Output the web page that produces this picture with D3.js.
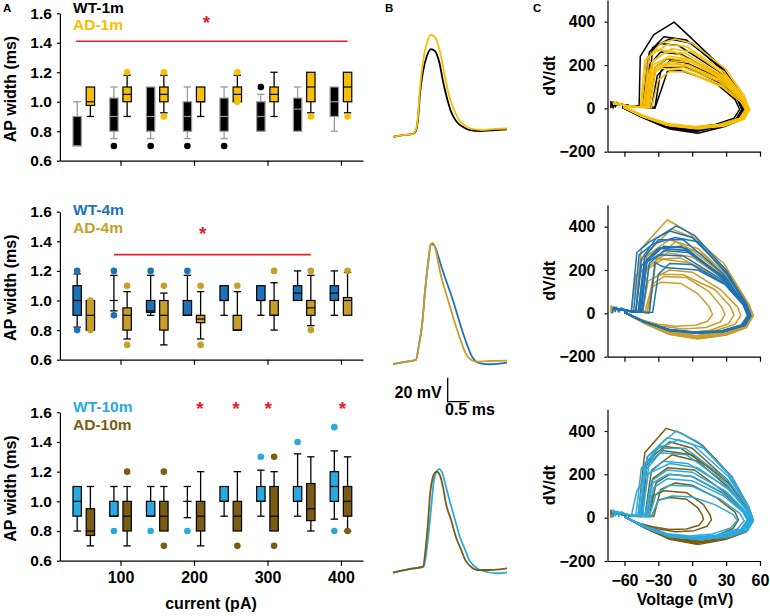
<!DOCTYPE html>
<html><head><meta charset="utf-8">
<script src="https://cdn.jsdelivr.net/npm/d3@7"></script>
<style>
body{margin:0;background:#fff}
svg{display:block;font-family:"Liberation Sans",Arial,sans-serif;font-weight:bold}
</style>
</head><body>
<svg id="chart" width="770" height="616"></svg>
<script>
// ---------------- DATA ----------------
const currents = [50,100,150,200,250,300,350,400];
const xTicksA = [100,200,300,400];
const yTicksA = [0.6,0.8,1.0,1.2,1.4,1.6];
const xTicksC = [-60,-30,0,30,60];
const yTicksC = [-200,0,200,400];
const seriesNames = ["WT-1m","AD-1m","WT-4m","AD-4m","WT-10m","AD-10m"];

// box stats per current: [lowWhisker, q1, median, q3, highWhisker]
const wt1m = [[0.70,0.70,0.70,0.90,1.00],[0.75,0.80,0.90,1.025,1.10],[0.75,0.80,0.90,1.10,1.10],[0.75,0.80,0.90,1.00,1.10],
              [0.75,0.80,0.90,1.025,1.10],[0.80,0.80,0.90,1.00,1.05],[0.80,0.80,0.95,1.025,1.10],[0.80,0.90,1.00,1.10,1.10]];
const ad1m = [[0.90,0.975,1.00,1.10,1.10],[0.90,1.00,1.05,1.10,1.18],[0.925,1.00,1.05,1.10,1.18],[0.90,1.00,1.00,1.10,1.10],
              [1.00,1.00,1.05,1.10,1.18],[0.90,1.00,1.05,1.10,1.20],[0.925,1.00,1.10,1.20,1.20],[0.925,1.00,1.10,1.20,1.20]];
const wt4m = [[0.82,0.90,1.00,1.10,1.18],[0.93,1.00,1.00,1.00,1.17],[0.90,0.92,0.93,1.00,1.17],[0.90,0.90,0.90,1.00,1.17],
              [0.90,1.00,1.00,1.10,1.10],[0.90,1.00,1.00,1.10,1.10],[1.00,1.00,1.05,1.10,1.20],[0.90,1.00,1.05,1.10,1.20]];
const ad4m = [[0.80,0.80,0.90,1.00,1.00],[0.74,0.80,0.90,0.95,1.06],[0.70,0.80,0.90,1.00,1.05],[0.74,0.85,0.875,0.90,1.06],
              [0.80,0.80,0.80,0.90,1.06],[0.80,0.90,0.90,1.00,1.12],[0.83,0.90,0.95,1.00,1.17],[0.90,0.90,1.00,1.02,1.19]];
const wt10m = [[0.80,0.90,1.00,1.10,1.10],[0.90,0.90,0.90,1.00,1.10],[0.90,0.90,0.90,1.00,1.10],[0.89,1.00,1.00,1.00,1.10],
               [0.90,1.00,1.00,1.10,1.10],[0.90,1.00,1.00,1.10,1.21],[0.90,1.00,1.00,1.10,1.32],[0.88,1.00,1.10,1.20,1.34]];
const ad10m = [[0.70,0.77,0.80,0.95,1.10],[0.70,0.80,0.90,1.00,1.10],[0.80,0.80,0.90,1.00,1.10],[0.70,0.80,0.90,1.00,1.20],
               [0.80,0.80,0.90,1.00,1.20],[0.80,0.80,0.90,1.10,1.20],[0.80,0.87,0.95,1.12,1.30],[0.80,0.90,1.00,1.10,1.30]];

// outliers: [current, value]
const wt1mOut = [[100,0.70],[150,0.70],[200,0.70],[250,0.70],[300,1.10]];
const ad1mOut = [[100,1.20],[150,1.20],[150,0.90],[250,1.20],[250,1.00],[350,0.90],[400,0.90]];
const wt4mOut = [[50,1.20],[50,0.80],[100,1.20],[100,0.90],[150,1.20],[200,1.20]];
const ad4mOut = [[50,1.00],[50,0.80],[100,1.10],[100,0.70],[150,1.10],[200,1.10],[200,0.70],[250,1.10],[300,1.20],[350,1.20],[350,0.80],[400,1.20]];
const wt10mOut = [[100,0.80],[150,0.80],[200,0.80],[300,1.30],[350,1.40],[400,1.50],[400,0.80]];
const ad10mOut = [[100,1.20],[150,1.20],[150,0.70],[250,0.70],[300,1.30],[300,0.70],[400,0.80]];

// significance: red bar [fromCurrent, toCurrent, value], stars [current, value]
const sigBar1m = [39.5, 409, 1.41];
const sigBar4m = [91, 359, 1.31];
const stars1m = [[217, 1.56]];
const stars4m = [[212, 1.475]];
const stars10m = [[208, 1.647],[257, 1.647],[301, 1.647],[402, 1.647]];

// Panel B action potentials: [time ms, mV above rest]
const apWT1m = [[0,0],[0.27,1.7],[0.45,2.5],[0.52,5],[0.57,15.8],[0.61,35],[0.68,54.2],[0.77,67.5],[0.86,73.3],[0.95,71.7],[1.05,62.5],[1.14,45.8],[1.25,29.2],[1.34,19.2],[1.45,12.5],[1.59,8.3],[1.75,5.8],[1.98,5],[2.32,5.8],[2.59,6.3]];
const apAD1m = [[0,0],[0.27,1.7],[0.45,2.5],[0.52,5.8],[0.57,18.3],[0.61,39.2],[0.68,62.5],[0.77,78.3],[0.86,85],[0.95,83.3],[1.07,70.8],[1.16,54.2],[1.27,35],[1.39,22.5],[1.5,14.2],[1.64,9.2],[1.8,6.7],[2.02,5.8],[2.32,6.7],[2.59,7.1]];
const apWT4m = [[0,-0.6],[0.27,1.1],[0.52,2.8],[0.59,15.3],[0.66,31.9],[0.73,60.9],[0.80,84.4],[0.86,99.4],[0.93,98.6],[1.02,90.3],[1.11,79.4],[1.36,52.8],[1.59,25.3],[1.80,5.3],[1.98,0],[2.20,-0.8],[2.59,0.5]];
const apAD4m = [[0,-0.6],[0.27,1.1],[0.52,2.8],[0.59,15.3],[0.66,31.9],[0.73,60.9],[0.80,84.4],[0.86,99.4],[0.91,100.3],[0.98,92.8],[1.07,76.1],[1.25,52.8],[1.48,25.3],[1.70,5.3],[1.90,1.3],[2.20,1.9],[2.59,2.2]];
const apWT10m = [[0,-0.8],[0.39,2.3],[0.70,4.2],[0.77,19.8],[0.84,43.1],[0.89,62.2],[0.93,76.4],[1.0,84.1],[1.05,85.5],[1.11,83.1],[1.20,71.4],[1.30,57.3],[1.41,43.1],[1.52,28.9],[1.64,18.1],[1.73,9.8],[1.84,4.8],[1.98,1.4],[2.36,-1.3],[2.59,-0.5]];
const apAD10m = [[0,-0.8],[0.39,2.3],[0.68,4.2],[0.75,22.3],[0.80,43.1],[0.84,63.9],[0.89,76.4],[0.95,82.3],[1.0,83.3],[1.07,79.8],[1.14,69.8],[1.20,57.3],[1.32,43.1],[1.43,28.9],[1.55,18.1],[1.64,9.8],[1.75,4.8],[1.91,1.4],[2.20,1.4],[2.59,2.8]];
const scaleBarMs = 0.5, scaleBarMV = 20;

// Panel C phase plots: loops of [Voltage mV, dV/dt]
const restWT1m = [[-72,0],[-72,32],[-70,2],[-70,30],[-68,6],[-67,28],[-64,18]];
const phaseWT1m = [
 [[-70,25],[-58,12],[-47,5],[-46,240],[-34,340],[-16,398],[-2,330],[28,180],[44,60],[48,-5],[44,-50],[28,-85],[5,-115],[-20,-95],[-42,-45],[-60,5]],
 [[-70,20],[-55,10],[-42,5],[-38,260],[-25,330],[-5,315],[25,190],[43,60],[47,-5],[43,-45],[25,-80],[0,-105],[-25,-80],[-45,-35],[-62,8]],
 [[-70,22],[-55,12],[-40,5],[-35,280],[-20,320],[0,300],[28,170],[45,50],[49,0],[45,-45],[28,-80],[5,-100],[-22,-85],[-45,-38],[-62,5]],
 [[-70,25],[-56,12],[-33,5],[-28,170],[-20,220],[-5,210],[25,130],[42,40],[45,-5],[40,-50],[22,-85],[0,-100],[-25,-80],[-45,-35],[-62,5]],
 [[-70,20],[-55,10],[-33,0],[-26,108],[-22,170],[-10,175],[20,120],[38,40],[42,-5],[37,-45],[20,-75],[0,-90],[-25,-70],[-45,-30],[-60,5]],
 [[-70,25],[-55,12],[-42,5],[-38,200],[-28,260],[-10,250],[22,160],[42,55],[46,0],[42,-45],[25,-80],[2,-100],[-22,-85],[-45,-38],[-62,5]],
 [[-70,25],[-56,12],[-38,5],[-33,190],[-22,230],[-8,215],[20,150],[40,50],[44,-5],[40,-50],[22,-85],[0,-105],[-25,-85],[-45,-40],[-62,5]],
 [[-70,22],[-56,10],[-44,5],[-40,230],[-30,300],[-12,290],[24,170],[43,55],[47,-5],[43,-48],[26,-82],[3,-108],[-22,-88],[-44,-40],[-62,5]],
 [[-70,22],[-56,10],[-36,5],[-31,150],[-24,190],[-6,190],[22,125],[40,40],[44,-5],[39,-48],[22,-80],[0,-98],[-24,-80],[-45,-36],[-62,5]]
];
const restAD1m = [[-70,20],[-69,30],[-66,24],[-62,20]];
const phaseAD1m = [
 [[-70,25],[-58,12],[-45,5],[-40,230],[-28,300],[-15,320],[0,300],[30,180],[46,60],[50,0],[46,-45],[28,-80],[5,-95],[-20,-80],[-42,-40],[-60,5]],
 [[-70,22],[-57,12],[-43,5],[-38,240],[-22,295],[-5,285],[28,170],[45,55],[49,0],[45,-45],[26,-78],[3,-92],[-22,-78],[-44,-38],[-61,5]],
 [[-70,22],[-56,10],[-40,5],[-35,220],[-18,275],[0,260],[30,150],[46,45],[50,-5],[45,-48],[26,-80],[2,-92],[-22,-78],[-44,-38],[-61,5]],
 [[-70,22],[-56,10],[-40,4],[-35,200],[-20,240],[-2,225],[28,140],[46,45],[50,-5],[45,-48],[28,-80],[5,-90],[-20,-75],[-42,-38],[-60,5]],
 [[-70,22],[-56,10],[-38,4],[-32,180],[-18,220],[0,210],[28,130],[45,40],[49,-5],[44,-48],[26,-78],[4,-88],[-20,-75],[-42,-36],[-60,5]],
 [[-70,22],[-56,10],[-40,4],[-34,170],[-20,210],[-3,200],[30,120],[47,35],[51,-5],[46,-50],[28,-82],[6,-90],[-20,-76],[-42,-38],[-60,5]],
 [[-70,22],[-56,10],[-42,4],[-37,160],[-25,195],[-8,190],[26,120],[44,40],[48,-5],[43,-45],[25,-76],[3,-86],[-22,-72],[-43,-35],[-60,5]],
 [[-70,22],[-56,10],[-44,4],[-39,150],[-28,185],[-10,180],[25,110],[44,35],[48,-5],[44,-45],[26,-78],[4,-88],[-22,-74],[-43,-36],[-60,5]],
 [[-70,22],[-56,10],[-36,4],[-30,130],[-20,170],[-5,168],[26,100],[43,30],[47,-5],[42,-45],[24,-74],[2,-84],[-22,-70],[-43,-34],[-60,5]],
 [[-70,22],[-56,10],[-46,4],[-42,220],[-32,270],[-18,265],[28,150],[46,45],[50,-5],[45,-48],[27,-80],[4,-92],[-22,-78],[-44,-38],[-61,5]],
 [[-70,22],[-56,10],[-41,4],[-36,210],[-24,260],[-6,255],[27,150],[45,45],[49,-5],[44,-47],[26,-79],[3,-90],[-21,-76],[-43,-37],[-60,5]],
 [[-70,22],[-56,10],[-39,4],[-33,190],[-22,232],[-4,220],[29,135],[46,42],[50,-5],[45,-48],[27,-80],[4,-89],[-21,-75],[-42,-37],[-60,5]],
 [[-70,22],[-56,10],[-43,4],[-38,175],[-26,205],[-8,200],[27,125],[45,38],[49,-5],[44,-47],[26,-79],[3,-88],[-21,-74],[-43,-36],[-60,5]]
];
const restAD4m = [[-72,0],[-72,35],[-70,5],[-69,30],[-65,20]];
const phaseAD4m = [
 [[-70,22],[-56,10],[-50,5],[-45,300],[-22,432],[-5,380],[28,230],[48,60],[53,-10],[48,-60],[30,-95],[5,-115],[-20,-95],[-42,-45],[-60,5]],
 [[-70,22],[-56,10],[-46,5],[-40,280],[-18,390],[0,350],[30,200],[48,55],[52,-10],[47,-60],[28,-95],[5,-112],[-20,-92],[-42,-45],[-60,5]],
 [[-70,22],[-56,10],[-48,5],[-42,260],[-20,340],[5,300],[32,170],[48,50],[52,-10],[46,-60],[28,-95],[4,-110],[-22,-90],[-43,-44],[-60,5]],
 [[-70,22],[-56,10],[-44,5],[-38,220],[-22,280],[0,260],[30,150],[46,45],[50,-10],[44,-55],[26,-90],[2,-105],[-22,-85],[-43,-42],[-60,5]],
 [[-70,22],[-56,10],[-54,5],[-50,174],[-30,250],[-10,255],[25,160],[45,45],[49,-10],[44,-55],[25,-90],[2,-105],[-22,-85],[-43,-42],[-60,5]],
 [[-70,22],[-56,10],[-40,5],[-35,160],[-20,200],[0,190],[25,110],[40,30],[43,-10],[38,-50],[20,-80],[0,-95],[-22,-78],[-43,-40],[-60,5]],
 [[-70,22],[-56,10],[-42,5],[-36,120],[-28,143],[-10,138],[5,90],[15,30],[18,-5],[14,-35],[3,-55],[-15,-60],[-30,-50],[-45,-30],[-60,5]],
 [[-70,22],[-56,10],[-40,5],[-34,140],[-25,170],[-5,165],[15,100],[26,30],[29,-5],[25,-40],[12,-65],[-8,-72],[-28,-58],[-45,-32],[-60,5]],
 [[-70,22],[-56,10],[-38,5],[-32,250],[-15,330],[10,270],[35,140],[50,40],[54,-10],[48,-65],[30,-100],[5,-118],[-20,-98],[-42,-48],[-60,5]],
 [[-70,22],[-56,10],[-46,5],[-41,200],[-26,250],[-4,235],[28,140],[45,40],[49,-10],[43,-55],[25,-88],[2,-104],[-22,-84],[-43,-42],[-60,5]],
 [[-70,22],[-56,10],[-44,5],[-39,150],[-28,180],[-8,178],[20,110],[34,30],[37,-8],[32,-48],[16,-78],[-4,-90],[-25,-75],[-44,-38],[-60,5]],
 [[-70,22],[-56,10],[-50,5],[-46,240],[-30,300],[0,290],[32,160],[50,45],[54,-10],[48,-65],[30,-100],[5,-116],[-20,-96],[-42,-46],[-60,5]]
];
const restWT4m = [[-71,0],[-70,30],[-68,8],[-67,28],[-65,5],[-63,25],[-58,15]];
const phaseWT4m = [
 [[-70,25],[-56,12],[-50,5],[-45,250],[-32,346],[-14,404],[2,360],[30,200],[47,50],[51,-10],[46,-55],[28,-85],[5,-92],[-20,-80],[-42,-40],[-60,5]],
 [[-70,25],[-56,12],[-54,5],[-49,281],[-38,330],[-20,380],[0,350],[30,190],[48,45],[52,-10],[47,-55],[28,-85],[5,-90],[-20,-78],[-42,-40],[-60,5]],
 [[-70,25],[-56,12],[-48,5],[-42,260],[-30,340],[-8,340],[28,180],[46,45],[50,-10],[45,-55],[27,-84],[4,-90],[-20,-78],[-42,-40],[-60,5]],
 [[-70,25],[-56,12],[-46,5],[-40,240],[-25,310],[-5,300],[28,160],[46,40],[50,-10],[45,-55],[26,-82],[4,-88],[-20,-76],[-42,-40],[-60,5]],
 [[-70,25],[-56,12],[-38,2],[-33,235],[-28,220],[-22,210],[5,200],[30,130],[46,40],[50,-10],[45,-55],[26,-82],[3,-88],[-22,-75],[-42,-38],[-60,5]],
 [[-70,25],[-56,12],[-44,5],[-38,230],[-25,290],[-2,280],[30,150],[47,40],[51,-10],[46,-55],[27,-84],[4,-90],[-20,-76],[-42,-40],[-60,5]],
 [[-70,25],[-56,12],[-50,5],[-45,220],[-30,300],[-10,310],[28,170],[47,40],[51,-10],[46,-55],[27,-84],[4,-90],[-20,-76],[-42,-40],[-60,5]],
 [[-70,25],[-56,12],[-40,3],[-35,5],[-30,180],[-20,230],[0,225],[28,140],[45,40],[49,-10],[44,-52],[26,-80],[3,-86],[-22,-73],[-42,-38],[-60,5]],
 [[-70,25],[-56,12],[-52,5],[-47,270],[-35,320],[-15,350],[5,330],[30,185],[47,45],[51,-10],[46,-55],[27,-85],[4,-91],[-20,-79],[-42,-40],[-60,5]],
 [[-70,25],[-56,12],[-45,5],[-40,250],[-28,300],[-6,290],[29,160],[46,40],[50,-10],[45,-55],[26,-83],[4,-89],[-20,-77],[-42,-40],[-60,5]],
 [[-70,25],[-56,12],[-47,5],[-42,230],[-30,270],[-8,265],[28,150],[46,40],[50,-10],[45,-55],[26,-83],[4,-89],[-20,-77],[-42,-40],[-60,5]]
];
const restAD10m = [[-72,0],[-72,35],[-70,5],[-69,32],[-66,20]];
const phaseAD10m = [
 [[-70,22],[-56,10],[-48,5],[-42,300],[-23,412],[-10,390],[9,334],[35,190],[50,50],[54,-10],[48,-65],[30,-100],[5,-124],[-20,-100],[-42,-48],[-60,5]],
 [[-70,22],[-56,10],[-45,5],[-40,260],[-20,350],[0,320],[32,170],[50,40],[53,-10],[47,-60],[28,-98],[4,-118],[-20,-96],[-42,-46],[-60,5]],
 [[-70,22],[-56,10],[-42,5],[-36,220],[-18,290],[5,260],[32,140],[48,40],[52,-10],[46,-60],[28,-95],[4,-112],[-20,-92],[-42,-45],[-60,5]],
 [[-70,22],[-56,10],[-38,5],[-32,160],[-20,200],[0,190],[28,110],[45,30],[49,-10],[43,-55],[25,-88],[2,-105],[-22,-86],[-43,-42],[-60,5]],
 [[-70,22],[-56,10],[-40,5],[-35,100],[-25,124],[-5,115],[10,60],[16,10],[17,-10],[13,-40],[2,-60],[-15,-65],[-30,-52],[-46,-30],[-60,5]],
 [[-70,22],[-56,10],[-36,5],[-30,80],[-20,93],[-5,85],[5,45],[9,10],[10,-8],[6,-35],[-5,-52],[-20,-55],[-35,-42],[-48,-25],[-60,5]],
 [[-70,22],[-56,10],[-44,5],[-40,280],[-28,330],[-10,320],[30,180],[48,45],[52,-10],[46,-60],[27,-98],[3,-118],[-20,-96],[-42,-46],[-60,5]],
 [[-70,22],[-56,10],[-34,5],[-28,130],[-15,160],[0,150],[22,90],[38,25],[41,-10],[36,-50],[20,-85],[0,-100],[-22,-82],[-43,-40],[-60,5]],
 [[-70,22],[-56,10],[-46,5],[-41,240],[-26,310],[0,290],[32,160],[50,40],[53,-10],[47,-60],[28,-96],[4,-115],[-20,-94],[-42,-46],[-60,5]],
 [[-70,22],[-56,10],[-40,5],[-35,180],[-22,230],[2,220],[28,120],[46,32],[50,-10],[44,-56],[25,-90],[2,-106],[-22,-87],[-43,-43],[-60,5]]
];
const restWT10m = [[-71,0],[-70,35],[-68,8],[-67,30],[-65,5],[-63,28],[-58,15]];
const phaseWT10m = [
 [[-70,30],[-56,12],[-44,5],[-38,260],[-28,340],[-14,400],[5,350],[32,200],[50,50],[54,-15],[49,-60],[30,-90],[5,-100],[-20,-88],[-42,-45],[-60,5]],
 [[-70,30],[-56,12],[-46,5],[-40,280],[-22,370],[0,340],[32,190],[50,45],[54,-15],[48,-60],[29,-88],[4,-98],[-20,-86],[-42,-44],[-60,5]],
 [[-70,30],[-56,12],[-50,5],[-45,230],[-28,300],[-5,290],[30,160],[48,40],[53,-15],[47,-58],[28,-86],[4,-96],[-20,-84],[-42,-43],[-60,5]],
 [[-70,30],[-56,12],[-54,5],[-49,124],[-40,200],[-20,250],[5,230],[32,130],[49,35],[53,-15],[47,-58],[28,-86],[4,-95],[-20,-84],[-42,-43],[-60,5]],
 [[-70,30],[-56,12],[-42,5],[-36,170],[-22,220],[0,210],[30,120],[47,30],[51,-15],[45,-56],[26,-84],[3,-94],[-20,-82],[-42,-42],[-60,5]],
 [[-70,30],[-56,12],[-40,5],[-34,140],[-22,180],[0,170],[28,100],[45,25],[49,-15],[43,-55],[25,-82],[2,-92],[-20,-80],[-42,-40],[-60,5]],
 [[-70,30],[-56,12],[-38,5],[-32,110],[-20,150],[0,145],[25,85],[42,20],[46,-15],[40,-52],[22,-80],[0,-90],[-22,-78],[-42,-40],[-60,5]],
 [[-70,30],[-56,12],[-36,5],[-30,80],[-18,100],[0,95],[20,60],[36,15],[40,-12],[34,-48],[18,-75],[-2,-85],[-22,-74],[-42,-38],[-60,5]],
 [[-70,30],[-56,12],[-48,5],[-42,250],[-30,320],[-12,360],[10,320],[35,190],[50,45],[54,-15],[49,-60],[30,-90],[5,-100],[-20,-88],[-42,-45],[-60,5]],
 [[-70,30],[-56,12],[-45,5],[-39,200],[-26,260],[-4,250],[31,140],[48,35],[52,-15],[46,-57],[27,-85],[3,-95],[-20,-83],[-42,-42],[-60,5]],
 [[-70,30],[-56,12],[-47,5],[-41,220],[-25,320],[-6,320],[32,170],[50,40],[54,-15],[48,-60],[29,-88],[4,-98],[-20,-86],[-42,-44],[-60,5]],
 [[-70,30],[-56,12],[-41,5],[-35,160],[-22,200],[0,190],[29,110],[46,28],[50,-15],[44,-56],[25,-83],[2,-93],[-20,-81],[-42,-41],[-60,5]]
];

// ---------------- STYLES / LAYOUT ----------------
const COL = {
  "WT-1m":"#000000", "AD-1m":"#F8BE00",
  "WT-4m":"#1C72B8", "AD-4m":"#C89E2A",
  "WT-10m":"#28AAE1", "AD-10m":"#7C5C12"
};
const RED = "#E8202A";
const svg = d3.select("#chart");

function styleAxis(g, fs){
  g.attr("font-family",null).attr("font-size",null);
  g.selectAll("path.domain").attr("stroke","#000").attr("stroke-width",1.2);
  g.selectAll(".tick line").attr("stroke","#000").attr("stroke-width",1.2);
  g.selectAll(".tick text").attr("fill","#000").style("font-size",fs+"px").style("font-weight","bold");
}

// ---------------- PANEL A ----------------
const xA = d3.scaleLinear().domain([17.5,430]).range([59.9,363]);
const boxW = 8.4, off = 9;
const rowsA = [
  {top:13.3, bot:160.7, names:["WT-1m","AD-1m"], data:[wt1m,ad1m], outs:[wt1mOut,ad1mOut], bar:sigBar1m, stars:stars1m, legY:[13,29.5], wtGray:true},
  {top:211.7, bot:359.7, names:["WT-4m","AD-4m"], data:[wt4m,ad4m], outs:[wt4mOut,ad4mOut], bar:sigBar4m, stars:stars4m, legY:[215,233]},
  {top:412.3, bot:560.7, names:["WT-10m","AD-10m"], data:[wt10m,ad10m], outs:[wt10mOut,ad10mOut], bar:null, stars:stars10m, legY:[412,430]}
];

rowsA.forEach((r,ri)=>{
  const y = d3.scaleLinear().domain([0.6,1.6]).range([r.bot,r.top]);
  const gy = svg.append("g").attr("transform",`translate(${xA.range()[0]},0)`)
    .call(d3.axisLeft(y).tickValues(yTicksA).tickFormat(d3.format(".1f")).tickSize(3).tickPadding(5).tickSizeOuter(0));
  styleAxis(gy, 15.5);
  const gx = svg.append("g").attr("transform",`translate(0,${r.bot})`)
    .call(d3.axisBottom(xA).tickValues(xTicksA).tickSize(5).tickPadding(6).tickSizeOuter(0)
      .tickFormat(ri===2 ? d3.format("d") : ()=>""));
  styleAxis(gx, 16);

  svg.append("text").attr("transform",`translate(16,${(r.top+r.bot)/2+2}) rotate(-90)`)
    .attr("text-anchor","middle").style("font-size","16px").text("AP width (ms)");

  r.names.forEach((nm,si)=>{
    const dx = si===0 ? -off : off;
    const gray = (si===0 && r.wtGray);
    const lineCol = gray ? "#9a9a9a" : "#000";
    const g = svg.append("g");
    const stats = r.data[si];
    currents.forEach((c,i)=>{
      const [lo,q1,md,q3,hi] = stats[i];
      const cx = xA(c+dx);
      g.append("line").attr("x1",cx).attr("x2",cx).attr("y1",y(lo)).attr("y2",y(hi))
        .attr("stroke",lineCol).attr("stroke-width",1.3);
      if(hi>q3) g.append("line").attr("x1",cx-boxW/2+0.5).attr("x2",cx+boxW/2-0.5).attr("y1",y(hi)).attr("y2",y(hi)).attr("stroke",lineCol).attr("stroke-width",1.3);
      if(lo<q1) g.append("line").attr("x1",cx-boxW/2+0.5).attr("x2",cx+boxW/2-0.5).attr("y1",y(lo)).attr("y2",y(lo)).attr("stroke",lineCol).attr("stroke-width",1.3);
      if(q3>q1) g.append("rect").attr("x",cx-boxW/2).attr("width",boxW).attr("y",y(q3)).attr("height",y(q1)-y(q3))
        .attr("fill",COL[nm]).attr("stroke",lineCol).attr("stroke-width",1.2);
      g.append("line").attr("x1",cx-boxW/2).attr("x2",cx+boxW/2).attr("y1",y(md)).attr("y2",y(md))
        .attr("stroke",lineCol).attr("stroke-width",1.2);
    });
    r.outs[si].forEach(([c,v])=>{
      g.append("circle").attr("cx",xA(c+dx)).attr("cy",y(v)).attr("r",3.3).attr("fill",COL[nm]);
    });
    svg.append("text").attr("x",73).attr("y",r.legY[si]).attr("fill",COL[nm]).style("font-size","15.5px").text(nm);
  });

  if(r.bar){
    svg.append("line").attr("x1",xA(r.bar[0])).attr("x2",xA(r.bar[1])).attr("y1",y(r.bar[2])).attr("y2",y(r.bar[2]))
      .attr("stroke",RED).attr("stroke-width",1.6);
  }
  r.stars.forEach(([c,v])=>{
    svg.append("text").attr("x",xA(c)).attr("y",y(v)+10).attr("text-anchor","middle").attr("fill",RED)
      .style("font-size","19px").text("*");
  });
});
svg.append("text").attr("x",211).attr("y",609).attr("text-anchor","middle").style("font-size","16px").text("current (pA)");

// ---------------- PANEL B ----------------
const xB = d3.scaleLinear().domain([0,2.59]).range([393,507]);
const rowsB = [
  {base:137, traces:[["WT-1m",apWT1m],["AD-1m",apAD1m]]},
  {base:363.3, traces:[["WT-4m",apWT4m],["AD-4m",apAD4m]]},
  {base:571.7, traces:[["WT-10m",apWT10m],["AD-10m",apAD10m]]}
];
rowsB.forEach(r=>{
  const yB = d3.scaleLinear().domain([0,100]).range([r.base, r.base-120]);
  const line = d3.line().x(d=>xB(d[0])).y(d=>yB(d[1])).curve(d3.curveMonotoneX);
  r.traces.forEach(([nm,tr])=>{
    svg.append("path").attr("d",line(tr)).attr("fill","none").attr("stroke",COL[nm]).attr("stroke-width",1.8);
  });
});
// scale bar
{
  const yB = d3.scaleLinear().domain([0,100]).range([363.3,243.3]);
  const bx = 447.7, by = 401.7;
  const w = xB(scaleBarMs)-xB(0), h = yB(0)-yB(scaleBarMV);
  svg.append("path").attr("d",`M${bx},${by-h}V${by}H${bx+w}`).attr("fill","none").attr("stroke","#000").attr("stroke-width",1.3);
  svg.append("text").attr("x",bx-6).attr("y",398).attr("text-anchor","end").style("font-size","16px").text(scaleBarMV+" mV");
  svg.append("text").attr("x",445).attr("y",415).style("font-size","16px").text(scaleBarMs+" ms");
}

// ---------------- PANEL C ----------------
const xC = d3.scaleLinear().domain([-75,60]).range([607.5,760]);
const rowsC = [
  {bot:151.7, layers:[["WT-1m",phaseWT1m,restWT1m],["AD-1m",phaseAD1m,restAD1m]]},
  {bot:356.7, layers:[["AD-4m",phaseAD4m,restAD4m],["WT-4m",phaseWT4m,restWT4m]]},
  {bot:561, layers:[["AD-10m",phaseAD10m,restAD10m],["WT-10m",phaseWT10m,restWT10m]]}
];
rowsC.forEach((r,ri)=>{
  const yC = d3.scaleLinear().domain([-200,500]).range([r.bot, r.bot-151.7]);
  const gy = svg.append("g").attr("transform",`translate(${xC.range()[0]},0)`)
    .call(d3.axisLeft(yC).tickValues(yTicksC).tickSize(3).tickPadding(9).tickSizeOuter(0));
  styleAxis(gy, 16);
  const gx = svg.append("g").attr("transform",`translate(0,${r.bot})`)
    .call(d3.axisBottom(xC).tickValues(xTicksC).tickSize(5).tickPadding(9).tickSizeOuter(0)
      .tickFormat(ri===2 ? d3.format("d") : ()=>""));
  styleAxis(gx, 16);
  svg.append("text").attr("transform",`translate(555,${yC(150)}) rotate(-90)`)
    .attr("text-anchor","middle").style("font-size","16px").text("dV/dt");
  const line = d3.line().x(d=>xC(d[0])).y(d=>yC(d[1]));
  r.layers.forEach(([nm,loops,rest])=>{
    const g = svg.append("g").attr("fill","none").attr("stroke",COL[nm]).attr("stroke-width",1.5).attr("stroke-linejoin","round");
    g.append("path").attr("d",line(rest));
    loops.forEach(l=>g.append("path").attr("d",line(l)));
  });
});
svg.append("text").attr("x",685).attr("y",605).attr("text-anchor","middle").style("font-size","16px").text("Voltage (mV)");

// panel letters
[["A",3],["B",385],["C",533]].forEach(([t,x])=>{
  svg.append("text").attr("x",x).attr("y",12).style("font-size","11.5px").text(t);
});
</script>
</body></html>
